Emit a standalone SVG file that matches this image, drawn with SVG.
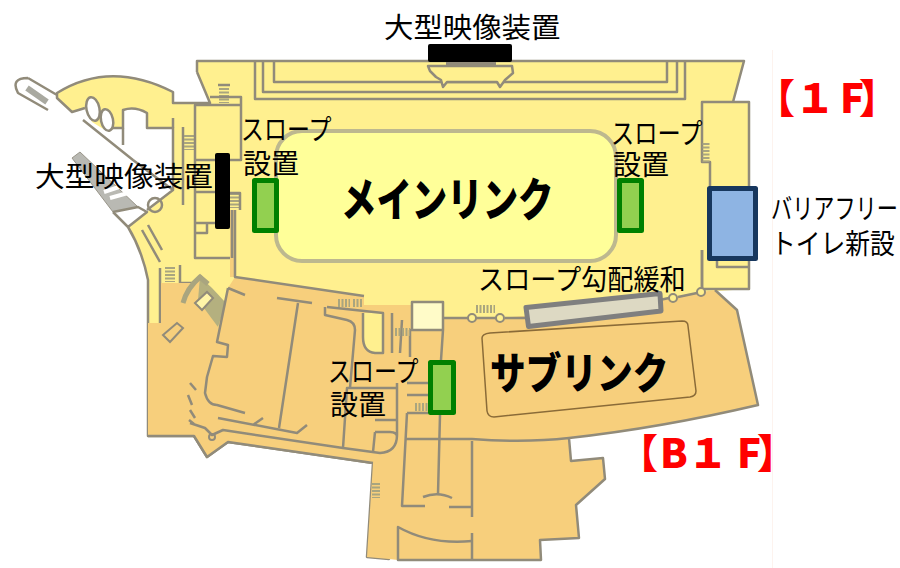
<svg xmlns="http://www.w3.org/2000/svg" width="900" height="568" viewBox="0 0 900 568">
<style>
.w{fill:none;stroke:#918b7a;stroke-width:2.500;stroke-linejoin:round}
.h{fill:none;stroke:#a9a57f;stroke-width:8;stroke-dasharray:2 1.500}
.t{font-family:"Noto Sans CJK JP","Liberation Sans",sans-serif;fill:#000;font-size:28px}
.b{font-family:"Noto Sans CJK JP","Liberation Sans",sans-serif;font-weight:900}
.r{font-family:"Noto Sans CJK JP","Liberation Sans",sans-serif;font-weight:900;font-size:40px;fill:#ff0000}
.g{fill:#92d050;stroke:#008000;stroke-width:5;stroke-linejoin:round}
</style>
<rect width="900" height="568" fill="#fff"/>
<rect x="772" y="50" width="1" height="518" fill="#fdf3ee"/>
<g id="floor-1f">
<path d="M197 61H744L733 102H749V289L701 292L600 330H300L150 330H148V280Q142 250 128 227L147 212L173 190V128H147V113Q135 106 123 110V128L105 130L92 122L85 108L72 112L57 98V93Q110 60 173 92V103H210L197 72Z" fill="#fff08f"/>
<path d="M72 158L80 152L138 207L113 212Z" fill="#b9b9b3" stroke="#9a968a"/>
<path d="M104 192L122 186M110 198L128 193" fill="none" stroke="#fff" stroke-width="4"/>
<path class="w" d="M113 212L138 207L147 212L128 227M113 212L128 227Q142 250 148 280V436H194L207 457L228 442L373 463L367 557L389 559L390 535L377 535L380 483"/>
<path class="w" d="M197 72V61H744L733 102H749V289H702V250M702 143V102H733M197 72L210 103H173V92Q110 60 57 93V98L72 112L85 108M28 78L57 95M28 78Q10 78 18 93L48 110M83 120L133 160L173 190V128H147V113Q135 106 123 110V128H105M147 210L173 190"/>
<path d="M27 88L47 102" stroke="#a9a9a0" stroke-width="6" fill="none"/>
<ellipse cx="93" cy="109" rx="6.500" ry="12" transform="rotate(-12 93 109)" fill="#fff" stroke="#918b7a" stroke-width="2.500"/>
<ellipse cx="107" cy="120" rx="6" ry="11" transform="rotate(-12 107 120)" fill="#fff" stroke="#918b7a" stroke-width="2.500"/>
<path class="w" d="M123 128V145M183 127V205M173 128V118"/>
<circle cx="155" cy="205" r="7" fill="none" stroke="#918b7a" stroke-width="2.500"/>
<path class="w" d="M142 230L160 262M148 225L162 250M160 268V323M180 265V283H195L202 276"/>
<path d="M170 267V282M189 135V150M224 88V103M235 193V208" fill="none" stroke="#a9a57f" stroke-width="10" stroke-dasharray="2 1.500"/>
<path class="w" d="M195 105H241V160H195ZM195 105V258H230M195 192H215M195 223H215M195 233H207V223M210 97H241V105M218 85H230M230 193H240V210"/>
<path class="w" d="M255 61V99H685V61M263 61V92H677V61M274 61V82H667V61"/>
<path d="M428 66L430 71L436 77L441 80L443 87L447 82H497L500 87L505 80L513 73L512 66Z" fill="#fff08f" stroke="#918b7a" stroke-width="2.500" stroke-linejoin="round"/>
<rect x="446" y="60" width="50" height="5" fill="#918b7a"/>
<path class="w" d="M702 143V162H710V186M702 250V288M717 260V267H748"/>
<path d="M706 143V162" fill="none" stroke="#a9a57f" stroke-width="7" stroke-dasharray="2 1.500"/>
</g>
<g id="floor-b1f">
<path d="M150 323H161V283H195L200 277L218 327L228 288L235 277L364 296V305L412 305V330H443V318H500L600 310L701 292L715 290L737 310L758 405Q660 428 569 438L571 461L603 458L605 479L576 505L579 538L540 540L541 560L471 561L398 560L389 559L367 557L373 463L228 442L207 457L194 436H148V323Z" fill="#f7cf7c"/>
<path d="M230 210H235V277H230Z" fill="#f7cf7c"/>
<path d="M363 313H383V353H375Q363 350 363 337Z" fill="#fff08f"/>
<rect x="412" y="302" width="31" height="28" fill="#fffbc8"/>
<path d="M200 277L212 288L226 303L218 327L198 300Z" fill="#b4b07f"/>
<path d="M183 303Q187 288 200 277L208 284" fill="none" stroke="#a9a57f" stroke-width="5"/>
<path class="w" d="M148 436H194L207 457L228 442L373 463M232 210V258M235 210V277L364 296M228 288L245 295M277 298L312 303M298 303L279 428M228 288L217 342L228 345L227 357L213 356L207 377L205 393Q208 405 217 405L245 413M218 418L297 433L307 425M253 425L263 418M190 423L205 428L212 435L223 430L343 448L380 453Q397 452 397 435V383M343 448L347 388H397M375 432H390Q397 432 397 437M373 452L375 432M375 420H397"/>
<path class="w" d="M325 307V315L347 320Q355 322 355 330L350 388M327 307L383 313V353H375Q363 352 363 337V313M392 313V353M402 320L400 353"/>
<path class="w" d="M412 302H443V330H412ZM410 330V357M410 330H443L441 360M407 383H428M407 395H428M407 413H428M407 413L402 506H425M423 497Q438 491 452 498M440 415L438 494M449 507H472M472 441V517M472 533V561"/>
<path class="w" d="M405 439H472Q525 443 569 438Q660 428 758 405L737 310L715 290M569 438L571 461L603 458L605 479L576 505L579 538L540 540L541 560H398L398 527Q430 545 472 541"/>
<path class="w" d="M443 318H468M475 318H497M505 318H530M655 301L669 298M678 297L697 293"/>
<circle cx="472" cy="318" r="4" fill="#fff08f" stroke="#918b7a" stroke-width="2"/>
<circle cx="500" cy="318" r="4" fill="#fff08f" stroke="#918b7a" stroke-width="2"/>
<circle cx="673" cy="298" r="4" fill="#fff08f" stroke="#918b7a" stroke-width="2"/>
<circle cx="701" cy="292" r="4" fill="#fff08f" stroke="#918b7a" stroke-width="2"/>
<circle cx="212" cy="437" r="3" fill="none" stroke="#918b7a" stroke-width="2"/>
<path class="h" d="M338 303H350M353 303H363M395 332H410M415 407H428M476 309H495"/>
<path d="M376 483V498" fill="none" stroke="#a9a57f" stroke-width="8" stroke-dasharray="2 1.500"/>
<path d="M195 303L207 292L213 298L202 310Z" fill="#fff5a8" stroke="#918b7a" stroke-width="2"/>
<path d="M163 335L177 323L183 328L170 342Z" fill="none" stroke="#918b7a" stroke-width="2"/>
<path class="w" d="M190 383L196 390M188 395L192 405M189 420L194 424M190 410L195 418"/>
<path d="M482 338Q482 334 490 333L682 321Q688 321 688 326L696 391Q696 396 690 397L494 417Q488 417 487 411Z" fill="#f7cf7c" stroke="#8a6b38" stroke-width="1.500"/>
</g>
<rect id="main-rink" x="276" y="131" width="340" height="130" rx="26" fill="#ffff99" stroke="#bdb88f" stroke-width="4"/>
<g id="slope-left"><rect class="g" x="254.500" y="180.500" width="22" height="50"/></g>
<g id="slope-right"><rect class="g" x="619.500" y="180.500" width="22" height="50"/></g>
<g id="slope-lower"><rect class="g" x="430.500" y="362.500" width="23" height="50"/></g>
<g id="slope-ease"><path d="M526 307.500L660 293.500L661 311L528.500 326.500Z" fill="#ddd9c3" stroke="#7f7f7f" stroke-width="5" stroke-linejoin="round"/></g>
<g id="toilet"><rect x="709.500" y="188.500" width="46" height="70" fill="#8eb4e3" stroke="#17375e" stroke-width="5" stroke-linejoin="round"/></g>
<g id="screen-top"><rect x="428" y="44" width="84" height="18" rx="2" fill="#000"/></g>
<g id="screen-left"><rect x="215" y="153" width="15" height="76" rx="2" fill="#000"/></g>
<g id="labels">
<text class="t" transform="translate(384 38) scale(1.050 1)">大型映像装置</text>
<text class="t" transform="translate(35 187) scale(1.060 1)">大型映像装置</text>
<text class="t" transform="translate(241 140) scale(0.820 1)">スロープ</text>
<text class="t" x="243" y="174">設置</text>
<text class="t" transform="translate(611 144) scale(0.830 1)">スロープ</text>
<text class="t" x="613" y="175">設置</text>
<text class="t" transform="translate(328 382) scale(0.820 1)">スロープ</text>
<text class="t" x="330" y="415">設置</text>
<text class="t" transform="translate(478 290) scale(0.935 1)">スロープ勾配緩和</text>
<text class="t" transform="translate(771 219) scale(0.755 1)">バリアフリー</text>
<text class="t" transform="translate(771 254) scale(0.885 1)">トイレ新設</text>
<text class="b" font-size="46" transform="translate(341 216) scale(0.770 1)">メインリンク</text>
<text class="b" font-size="43" transform="translate(490 389) scale(0.830 1)">サブリンク</text>
<text class="r" x="755 795 840 859" y="113">【１F】</text>
<text class="r" x="618 660 688 737 757" y="468">【B１F】</text>
</g>
</svg>
